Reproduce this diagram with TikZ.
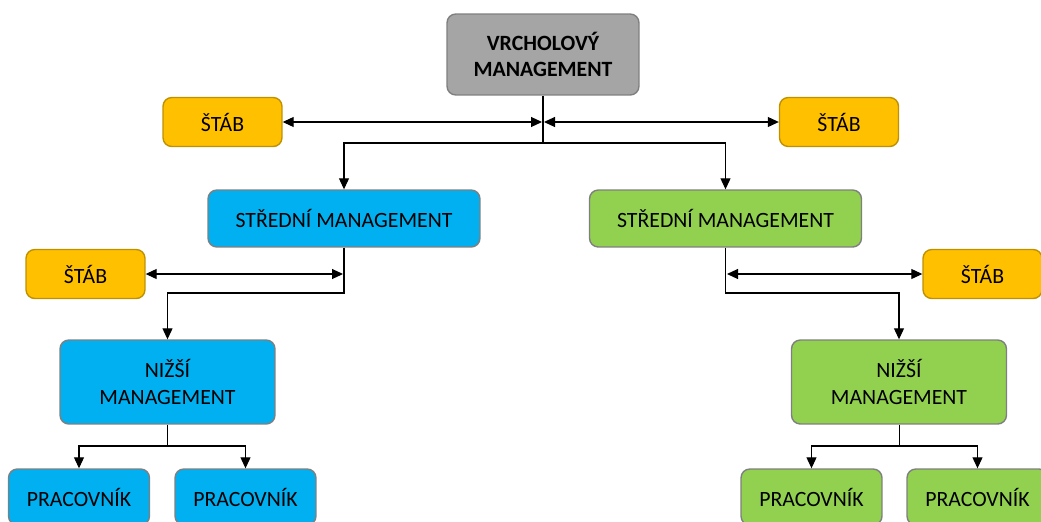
\documentclass[tikz,border=0pt]{standalone}
\usepackage{fontspec}
\setmainfont{Carlito}
\usepackage{tikz}
\usetikzlibrary{arrows.meta}
\definecolor{topgray}{HTML}{A5A5A5}
\definecolor{edgegray}{HTML}{7F7F7F}
\definecolor{stabfill}{HTML}{FFC000}
\definecolor{stabedge}{HTML}{BF9000}
\definecolor{bluefill}{HTML}{00B0F0}
\definecolor{greenfill}{HTML}{92D050}
\tikzset{
  orgbox/.style ={rectangle, rounded corners=5pt, draw=edgegray, line width=0.8pt,
                  align=center, inner sep=0pt, font=\fontsize{12.4}{15}\selectfont},
  topbox/.style ={orgbox, fill=topgray, minimum width=3.84cm, minimum height=1.62cm,
                  font=\fontsize{12.4}{15}\selectfont\bfseries},
  stabbox/.style={orgbox, fill=stabfill, draw=stabedge, minimum width=2.38cm,
                  minimum height=0.98cm},
  midbox/.style ={orgbox, minimum width=5.44cm, minimum height=1.14cm},
  lowbox/.style ={orgbox, minimum width=4.3cm, minimum height=1.68cm},
  workbox/.style={orgbox, minimum width=2.82cm, minimum height=1.12cm},
  flow/.style   ={-{Triangle[length=2.2mm,width=2mm]}, line width=0.6pt},
  twoway/.style ={{Triangle[length=2.2mm,width=2mm]}-{Triangle[length=2.2mm,width=2mm]},
                  line width=0.6pt}
}

\begin{document}
\begin{tikzpicture}[x=0.02cm, y=-0.02cm]
  \useasboundingbox (0,0) rectangle (1041,521);
  \clip (0,0) rectangle (1041,521);
  % top level
  \node[topbox]                  (top)    at (543,54.5)  {VRCHOLOVÝ\\MANAGEMENT};
  \node[stabbox]                 (stabTL) at (222.5,122) {ŠTÁB};
  \node[stabbox]                 (stabTR) at (839,122)   {ŠTÁB};
  % middle level
  \node[midbox, fill=bluefill]   (midL)   at (344,218.5) {STŘEDNÍ MANAGEMENT};
  \node[midbox, fill=greenfill]  (midR)   at (725.5,218.5) {STŘEDNÍ MANAGEMENT};
  \node[stabbox]                 (stabML) at (85.5,274)  {ŠTÁB};
  \node[stabbox]                 (stabMR) at (982.5,274) {ŠTÁB};
  % lower level
  \node[lowbox, fill=bluefill]   (lowL)   at (167.5,382) {NIŽŠÍ\\MANAGEMENT};
  \node[lowbox, fill=greenfill]  (lowR)   at (899,382)   {NIŽŠÍ\\MANAGEMENT};
  % workers
  \node[workbox, fill=bluefill]  (workL1) at (79,497)    {PRACOVNÍK};
  \node[workbox, fill=bluefill]  (workL2) at (245.5,497) {PRACOVNÍK};
  \node[workbox, fill=greenfill] (workR1) at (811.5,497) {PRACOVNÍK};
  \node[workbox, fill=greenfill] (workR2) at (977.5,497) {PRACOVNÍK};

  \coordinate (jtop) at (543,143);
  \coordinate (sTL)  at (542,122);
  \coordinate (sTR)  at (544,122);
  \draw[flow] (top.south) -- (jtop) -| (midL.north);
  \draw[flow] (jtop) -| (midR.north);
  \draw[twoway] (stabTL.east) -- (sTL);
  \draw[twoway] (sTR) -- (stabTR.west);

  \coordinate (jML) at (344,293);
  \coordinate (sML) at (343,274);
  \draw[flow] (midL.south) -- (jML) -| (lowL.north);
  \draw[twoway] (stabML.east) -- (sML);

  \coordinate (jMR) at (725.5,293);
  \coordinate (sMR) at (727,274);
  \draw[flow] (midR.south) -- (jMR) -| (lowR.north);
  \draw[twoway] (sMR) -- (stabMR.west);

  \coordinate (jLL) at (167.5,446);
  \draw (lowL.south) -- (jLL);
  \draw[flow] (jLL) -| (workL1.north);
  \draw[flow] (jLL) -| (workL2.north);

  \coordinate (jLR) at (899,446);
  \draw (lowR.south) -- (jLR);
  \draw[flow] (jLR) -| (workR1.north);
  \draw[flow] (jLR) -| (workR2.north);
\end{tikzpicture}
\end{document}
